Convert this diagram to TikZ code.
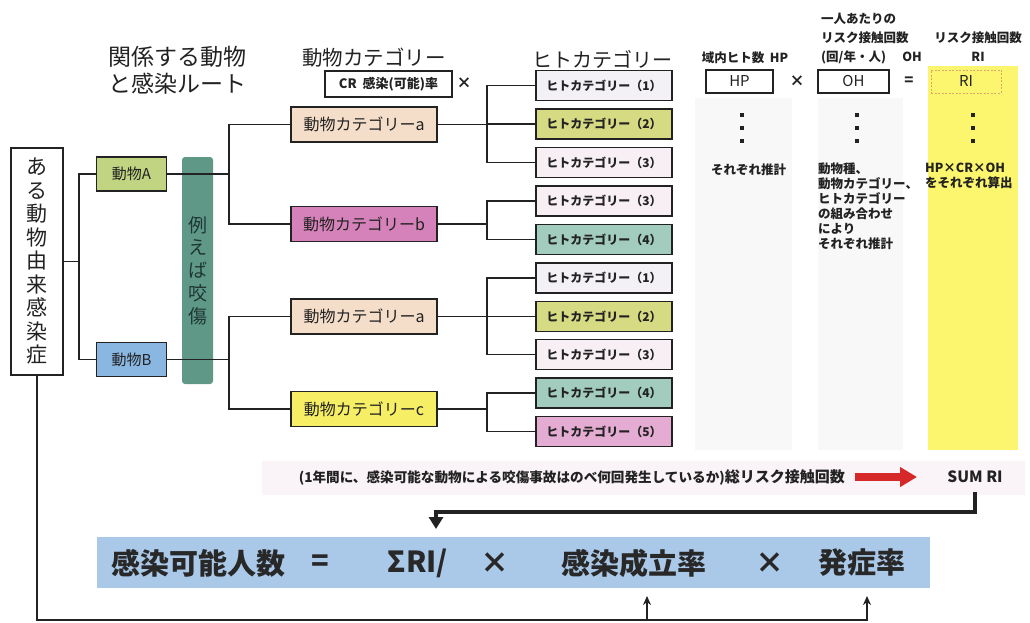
\documentclass[tikz,border=0pt]{standalone}
\usepackage{fontspec}
\setmainfont{Noto Sans CJK JP}
\usetikzlibrary{arrows.meta}
\definecolor{ink}{RGB}{34,34,34}
\definecolor{catA}{RGB}{244,222,202}
\definecolor{catB}{RGB}{214,130,186}
\definecolor{catC}{RGB}{246,238,100}
\definecolor{hOne}{RGB}{243,240,246}
\definecolor{hTwo}{RGB}{214,218,130}
\definecolor{hThree}{RGB}{247,239,243}
\definecolor{hFour}{RGB}{162,204,190}
\definecolor{hFive}{RGB}{228,172,210}
\definecolor{animA}{RGB}{192,212,130}
\definecolor{animB}{RGB}{138,182,226}
\definecolor{bite}{RGB}{96,152,136}
\definecolor{biteText}{RGB}{30,55,50}
\definecolor{yellowcol}{RGB}{252,246,110}
\definecolor{graycol}{RGB}{248,248,248}
\definecolor{pinkband}{RGB}{250,243,247}
\definecolor{blueband}{RGB}{170,200,232}
\definecolor{riborder}{RGB}{215,165,110}
\definecolor{redA}{RGB}{214,40,40}
\definecolor{eqtext}{RGB}{40,40,40}
\newcommand{\myfs}[2]{\fontsize{#1}{#2}\selectfont}
\begin{document}
\begin{tikzpicture}[x=1pt,y=-1pt,
  box/.style={draw=ink, line width=1.2pt, inner sep=0pt, text=ink},
  hbox/.style={box, minimum width=136pt, minimum height=30pt, font=\myfs{12}{14}\bfseries},
  cbox/.style={box, minimum width=146pt, minimum height=35pt, font=\myfs{16}{18}},
  abox/.style={box, minimum width=70pt, minimum height=34pt, font=\myfs{15}{17}},
  conn/.style={draw=ink, line width=1.1pt},
  lbl/.style={inner sep=0pt, text=ink},
  loopline/.style={draw=ink, line width=2.2pt},
  eqlbl/.style={inner sep=0pt, text=eqtext, font=\myfs{29}{32}\bfseries}]
\useasboundingbox (0,0) rectangle (1030,623);

% background bands
\fill[yellowcol] (928,66) rectangle (1018,450);
\fill[graycol] (695,98) rectangle (792,450);
\fill[graycol] (818,98) rectangle (903,450);
\fill[pinkband] (262,461) rectangle (1025,495);
\fill[blueband] (97,537) rectangle (930,588);

% headers
\node[lbl, anchor=west, font=\myfs{23}{26}] (hd1) at (108,57) {関係する動物};
\node[lbl, anchor=west, font=\myfs{23}{26}] (hd2) at (108,84) {と感染ルート};
\node[lbl, anchor=west, font=\myfs{20.5}{24}] (hd3) at (302,58) {動物カテゴリー};
\node[lbl, anchor=west, font=\myfs{20}{24}] (hd4) at (532,59) {ヒトカテゴリー};
\node[lbl, font=\myfs{12.5}{15}\bfseries] (hd5) at (745,58) {域内ヒト数\ \ HP};
\node[lbl, anchor=north west, align=left, font=\myfs{12.5}{19}\bfseries] (hd6) at (821,13) {一人あたりの\\リスク接触回数\\(回/年・人)\hspace{1.3em}OH};
\node[lbl, anchor=north, align=center, font=\myfs{12.5}{19}\bfseries] (hd7) at (978,32) {リスク接触回数\\RI};

% formula boxes
\node[box, minimum width=127pt, minimum height=26pt, font=\myfs{13}{15}\bfseries] (cr) at (388.5,84) {CR\ \ 感染(可能)率};
\node[lbl, font=\myfs{15}{16}\bfseries] (x0) at (464,83) {×};
\node[box, minimum width=67pt, minimum height=23pt, font=\myfs{15}{17}] (hp) at (739.5,81.5) {HP};
\node[lbl, font=\myfs{15}{16}\bfseries] (x1) at (797,81) {×};
\node[box, minimum width=71pt, minimum height=23pt, font=\myfs{15}{17}] (oh) at (853.5,81.5) {OH};
\node[lbl, font=\myfs{15}{16}\bfseries] (eq0) at (909,81) {=};
\node[draw=riborder, line width=0.7pt, dash pattern=on 2pt off 1.5pt, fill=yellowcol, inner sep=0pt, text=ink,
      minimum width=70pt, minimum height=23pt, font=\myfs{15}{17}] (ri) at (966,81.5) {RI};

% vertical dots
\foreach \x in {742,857,973}{
  \foreach \y in {115,128,141}{
    \fill[ink] (\x-2,\y-2) rectangle (\x+2,\y+2);
  }
}

% column notes
\node[lbl, anchor=west, font=\myfs{12.5}{15}\bfseries] (n1) at (711,170) {それぞれ推計};
\node[lbl, anchor=north west, align=left, font=\myfs{12.5}{15}\bfseries] (n2) at (818,163) {動物種、\\動物カテゴリー、\\ヒトカテゴリー\\の組み合わせ\\により\\それぞれ推計};
\node[lbl, anchor=north west, align=left, font=\myfs{12.5}{15}\bfseries] (n3) at (925,163) {HP×CR×OH\\をそれぞれ算出};

% left tree
\node[box, minimum width=52pt, minimum height=227pt, align=center, font=\myfs{21}{23.5}] (root) at (37,261.5) {あ\\る\\動\\物\\由\\来\\感\\染\\症};
\node[abox, fill=animA] (anA) at (131.5,174) {動物A};
\node[abox, fill=animB] (anB) at (131.5,359.5) {動物B};
\node[fill=bite, rounded corners=3pt, minimum width=31pt, minimum height=227pt, inner sep=0pt, align=center,
      font=\myfs{19}{22.8}, text=biteText] (bite) at (197.5,270.5) {例\\え\\ば\\咬\\傷};

% animal categories
\node[cbox, fill=catA] (ca1) at (364,124.5) {動物カテゴリーa};
\node[cbox, fill=catB] (cb) at (364,224) {動物カテゴリーb};
\node[cbox, fill=catA] (ca2) at (364,316.5) {動物カテゴリーa};
\node[cbox, fill=catC] (cc) at (364,409) {動物カテゴリーc};

% human categories
\node[hbox, fill=hOne] (h1) at (604,85.5) {ヒトカテゴリー（1）};
\node[hbox, fill=hTwo] (h2) at (604,124) {ヒトカテゴリー（2）};
\node[hbox, fill=hThree] (h3) at (604,162.5) {ヒトカテゴリー（3）};
\node[hbox, fill=hThree] (h4) at (604,201) {ヒトカテゴリー（3）};
\node[hbox, fill=hFour] (h5) at (604,239.5) {ヒトカテゴリー（4）};
\node[hbox, fill=hOne] (h6) at (604,278) {ヒトカテゴリー（1）};
\node[hbox, fill=hTwo] (h7) at (604,316.5) {ヒトカテゴリー（2）};
\node[hbox, fill=hThree] (h8) at (604,354.5) {ヒトカテゴリー（3）};
\node[hbox, fill=hFour] (h9) at (604,393) {ヒトカテゴリー（4）};
\node[hbox, fill=hFive] (h10) at (604,431.5) {ヒトカテゴリー（5）};

% junction coordinates
\coordinate (jl) at (79,0);
\coordinate (jm) at (229,0);
\coordinate (jx) at (487,0);

% connectors
\draw[conn] (root.east) -- (root.east -| jl);
\draw[conn] (anA.west) -- (anA.west -| jl) -- (anB.west -| jl) -- (anB.west);
\draw[conn] (anA.east) -- (anA.east -| jm);
\draw[conn] (anB.east) -- (anB.east -| jm);
\draw[conn] (ca1.west) -- (ca1.west -| jm) -- (cb.west -| jm) -- (cb.west);
\draw[conn] (ca2.west) -- (ca2.west -| jm) -- (cc.west -| jm) -- (cc.west);

\draw[conn] (ca1.east) -- (ca1.east -| jx);
\draw[conn] (h1.west) -- (h1.west -| jx) -- (h3.west -| jx) -- (h3.west);
\draw[conn] (h2.west -| jx) -- (h2.west);
\draw[conn] (cb.east) -- (cb.east -| jx);
\draw[conn] (h4.west) -- (h4.west -| jx) -- (h5.west -| jx) -- (h5.west);
\draw[conn] (ca2.east) -- (ca2.east -| jx);
\draw[conn] (h6.west) -- (h6.west -| jx) -- (h8.west -| jx) -- (h8.west);
\draw[conn] (h7.west -| jx) -- (h7.west);
\draw[conn] (cc.east) -- (cc.east -| jx);
\draw[conn] (h9.west) -- (h9.west -| jx) -- (h10.west -| jx) -- (h10.west);

% total row
\node[lbl, anchor=east] (tot) at (845,477) {{\myfs{13.6}{16}\bfseries (1年間に、感染可能な動物による咬傷事故はのべ何回発生しているか)}{\myfs{15}{17}\bfseries 総リスク接触回数}};
\node[lbl, font=\myfs{15.5}{17}\bfseries] (sum) at (975,477) {SUM RI};
\coordinate (ra1) at (855,477);
\coordinate (ra2) at (917,477);
\draw[line width=8pt, draw=redA, -{Triangle[length=17pt,width=19pt]}] (ra1) -- (ra2);

% sum to equation
\coordinate (sumturn) at (975,512);
\coordinate (eqin) at (436,529);
\draw[line width=3.2pt, draw=ink, shorten <=9pt, -{Triangle[length=12pt,width=14pt]}] (sum.south) -- (sum.south |- sumturn) -| (eqin);

% equation
\node[eqlbl] (e1) at (198,563) {感染可能人数};
\node[eqlbl] (e2) at (320,563) {=};
\node[eqlbl] (e3) at (418,563) {ΣRI/};
\node[eqlbl] (e4) at (495,563) {×};
\node[eqlbl] (e5) at (634,563) {感染成立率};
\node[eqlbl] (e6) at (770,563) {×};
\node[eqlbl] (e7) at (862,563) {発症率};

% bottom loop
\coordinate (bl) at (0,620);
\coordinate (tA) at (647,596);
\coordinate (tB) at (867,596);
\draw[loopline, -{Stealth[length=9pt,width=8pt]}] (root.south) -- (root.south |- bl) -- (tB |- bl) -- (tB);
\draw[loopline, -{Stealth[length=9pt,width=8pt]}] (tA |- bl) -- (tA);
\end{tikzpicture}
\end{document}
